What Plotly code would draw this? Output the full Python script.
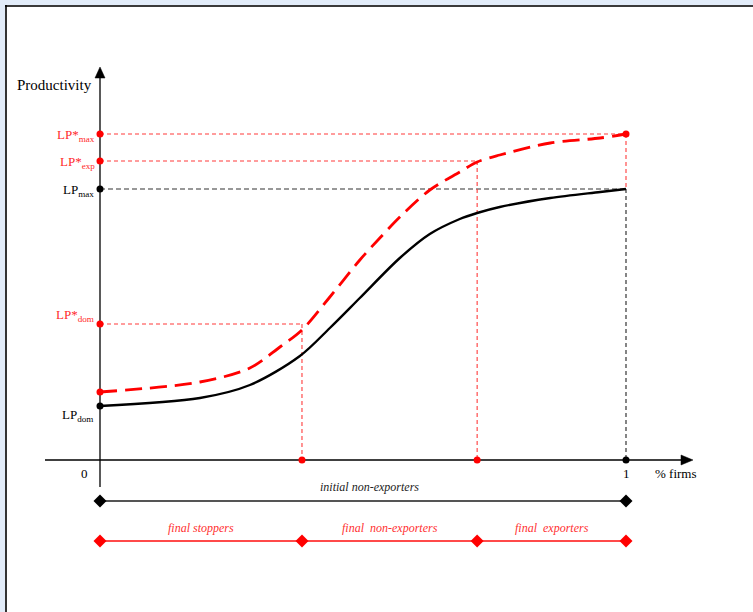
import plotly.graph_objects as go

# ---------------- data ----------------
# share of firms (0..1) and productivity levels (arbitrary units)
x_black = [0.0, 0.190, 0.285, 0.380, 0.437, 0.494, 0.570, 0.627, 0.684, 0.717,
           0.760, 0.856, 0.951, 1.0]
y_black = [0.54, 0.62, 0.75, 1.04, 1.32, 1.62, 2.02, 2.26, 2.41, 2.47,
           2.53, 2.62, 2.68, 2.71]

x_red = [0.0, 0.190, 0.285, 0.342, 0.384, 0.437, 0.494, 0.532, 0.570, 0.627,
         0.684, 0.717, 0.760, 0.856, 0.951, 1.0]
y_red = [0.68, 0.78, 0.92, 1.13, 1.30, 1.63, 2.00, 2.22, 2.43, 2.70,
         2.88, 2.98, 3.05, 3.17, 3.22, 3.26]

# levels on the productivity axis
lp_dom = 0.54
lp_max = 2.71
lp_star_start = 0.68
lp_star_dom = 1.36
lp_star_exp = 2.99
lp_star_max = 3.26

# thresholds on the firm-share axis
x_stop = 0.384
x_exp = 0.717
x_end = 1.0

segment_bounds = [0.0, x_stop, x_exp, x_end]
segment_labels = ["final stoppers", "final  non-exporters", "final  exporters"]
initial_label = "initial non-exporters"

RED = "#ff0000"
RED_L = "#ff3b3b"
FONT = "Liberation Serif"

# pixel-to-data helpers for the fixed canvas (753 x 612)
W, H = 753, 612
PX0, PX1 = 100, 626   # x=0 and x=1
PY0 = 460             # y=0
YS = 100.0            # px per unit of y
XS = PX1 - PX0
xr = [-PX0 / XS, (W - PX0) / XS]
yr = [(PY0 - H) / YS, PY0 / YS]
dx = lambda p: p / XS
dy = lambda p: p / YS

fig = go.Figure()

# ---------------- guide lines ----------------
def seg(x, y, color, dash, width=1.1):
    fig.add_trace(go.Scatter(x=x, y=y, mode="lines",
                             line=dict(color=color, dash=dash, width=width),
                             hoverinfo="skip", showlegend=False))

seg([0, x_end], [lp_star_max, lp_star_max], RED_L, "4px,3px")
seg([0, x_exp], [lp_star_exp, lp_star_exp], RED_L, "4px,3px")
seg([0, x_end], [lp_max, lp_max], "#333333", "5px,3px")
seg([0, x_stop], [lp_star_dom, lp_star_dom], RED_L, "4px,3px")
seg([x_stop, x_stop], [lp_star_dom, 0], RED_L, "4px,3px")
seg([x_exp, x_exp], [lp_star_exp, 0], RED_L, "4px,3px")
seg([x_end, x_end], [lp_star_max, lp_max], RED_L, "4px,3px")
seg([x_end, x_end], [lp_max, 0], "#222222", "4px,3px")

# ---------------- axes ----------------
seg([0, 0], [dy(PY0 - 487), dy(PY0 - 76)], "black", "solid", 1.3)
seg([dx(45 - PX0), dx(684 - PX0)], [0, 0], "black", "solid", 1.3)

# ---------------- curves ----------------
fig.add_trace(go.Scatter(x=x_black, y=y_black, mode="lines",
                         line=dict(color="black", width=2.4, shape="spline", smoothing=0.9),
                         hoverinfo="skip", showlegend=False))
fig.add_trace(go.Scatter(x=x_red, y=y_red, mode="lines",
                         line=dict(color=RED, width=2.8, dash="17px,8px",
                                   shape="spline", smoothing=0.9),
                         hoverinfo="skip", showlegend=False))

# ---------------- dots ----------------
fig.add_trace(go.Scatter(
    x=[0, 0, 0, 0, x_end, x_stop, x_exp],
    y=[lp_star_max, lp_star_exp, lp_star_dom, lp_star_start, lp_star_max, 0, 0],
    mode="markers", marker=dict(color=RED, size=7),
    hoverinfo="skip", showlegend=False))
fig.add_trace(go.Scatter(
    x=[0, 0, x_end], y=[lp_max, lp_dom, 0],
    mode="markers", marker=dict(color="black", size=7),
    hoverinfo="skip", showlegend=False))

# ---------------- bottom ranges ----------------
y_init = -dy(501 - PY0)
y_final = -dy(541 - PY0)
fig.add_trace(go.Scatter(x=[0, x_end], y=[y_init, y_init], mode="lines+markers",
                         line=dict(color="#555555", width=2),
                         marker=dict(symbol="diamond", size=10, color="black"),
                         hoverinfo="skip", showlegend=False))
fig.add_trace(go.Scatter(x=segment_bounds, y=[y_final] * len(segment_bounds),
                         mode="lines+markers",
                         line=dict(color="#ff4a4a", width=2),
                         marker=dict(symbol="diamond", size=10, color=RED),
                         hoverinfo="skip", showlegend=False))

annots = []
annots.append(dict(x=(0 + x_end) / 2 + dx(6), y=-dy(487 - PY0), text=f"<i>{initial_label}</i>",
                   font=dict(family=FONT, size=12, color="#222222"),
                   showarrow=False, xanchor="center", yanchor="middle"))
for i, lab in enumerate(segment_labels):
    annots.append(dict(x=(segment_bounds[i] + segment_bounds[i + 1]) / 2, y=-dy(528 - PY0),
                       text=f"<i>{lab}</i>",
                       font=dict(family=FONT, size=12, color="#ff3030"),
                       showarrow=False, xanchor="center", yanchor="middle"))

# axis labels
def lab(text, x, y, color, size=13, xanchor="right"):
    annots.append(dict(x=x, y=y, text=text, showarrow=False, xanchor=xanchor,
                       yanchor="middle", font=dict(family=FONT, size=size, color=color)))

lab("Productivity", dx(-6), dy(PY0 - 85), "black", 15)
lab("LP*<sub>max</sub>", dx(-3), lp_star_max - dy(1), "#ff2a2a")
lab("LP*<sub>exp</sub>", dx(-3), lp_star_exp - dy(1), "#ff2a2a")
lab("LP<sub>max</sub>", dx(-4), lp_max - dy(1), "black")
lab("LP*<sub>dom</sub>", dx(-4), lp_star_dom + dy(9), "#ff2a2a")
lab("LP<sub>dom</sub>", dx(-5), lp_dom - dy(9), "black")
lab("0", dx(-16), -dy(13), "black", 13, "center")
lab("1", x_end, -dy(13), "black", 13, "center")
lab("% firms", dx(676 - PX0), -dy(13), "black", 13, "center")

# ---------------- arrow heads & frame ----------------
shapes = [
    dict(type="path", xref="x", yref="y",
         path=f"M {dx(-5)} {dy(PY0-78)} L {dx(5)} {dy(PY0-78)} L 0 {dy(PY0-67)} Z",
         fillcolor="black", line=dict(color="black", width=0.5)),
    dict(type="path", xref="x", yref="y",
         path=f"M {dx(681-PX0)} {dy(5)} L {dx(681-PX0)} {-dy(5)} L {dx(693-PX0)} 0 Z",
         fillcolor="black", line=dict(color="black", width=0.5)),
    # light blue page margins
    dict(type="rect", xref="paper", yref="paper", x0=0, x1=1, y0=1 - 5 / H, y1=1,
         fillcolor="#e2ecf9", line=dict(width=0), layer="above"),
    dict(type="rect", xref="paper", yref="paper", x0=0, x1=5 / W, y0=0, y1=1,
         fillcolor="#e2ecf9", line=dict(width=0), layer="above"),
    dict(type="line", xref="paper", yref="paper", x0=5 / W, x1=1, y0=1 - 6 / H, y1=1 - 6 / H,
         line=dict(color="#3a3a3a", width=2), layer="above"),
    dict(type="line", xref="paper", yref="paper", x0=6 / W, x1=6 / W, y0=0, y1=1 - 5 / H,
         line=dict(color="black", width=1.6), layer="above"),
]

fig.update_layout(
    width=W, height=H,
    margin=dict(l=0, r=0, t=0, b=0),
    paper_bgcolor="white", plot_bgcolor="white",
    xaxis=dict(range=xr, visible=False, fixedrange=True),
    yaxis=dict(range=yr, visible=False, fixedrange=True),
    annotations=annots, shapes=shapes,
    showlegend=False,
)

fig.write_html("out.html", config={"displayModeBar": False},
               post_script="document.body.style.margin='0';document.body.style.overflow='hidden';")
